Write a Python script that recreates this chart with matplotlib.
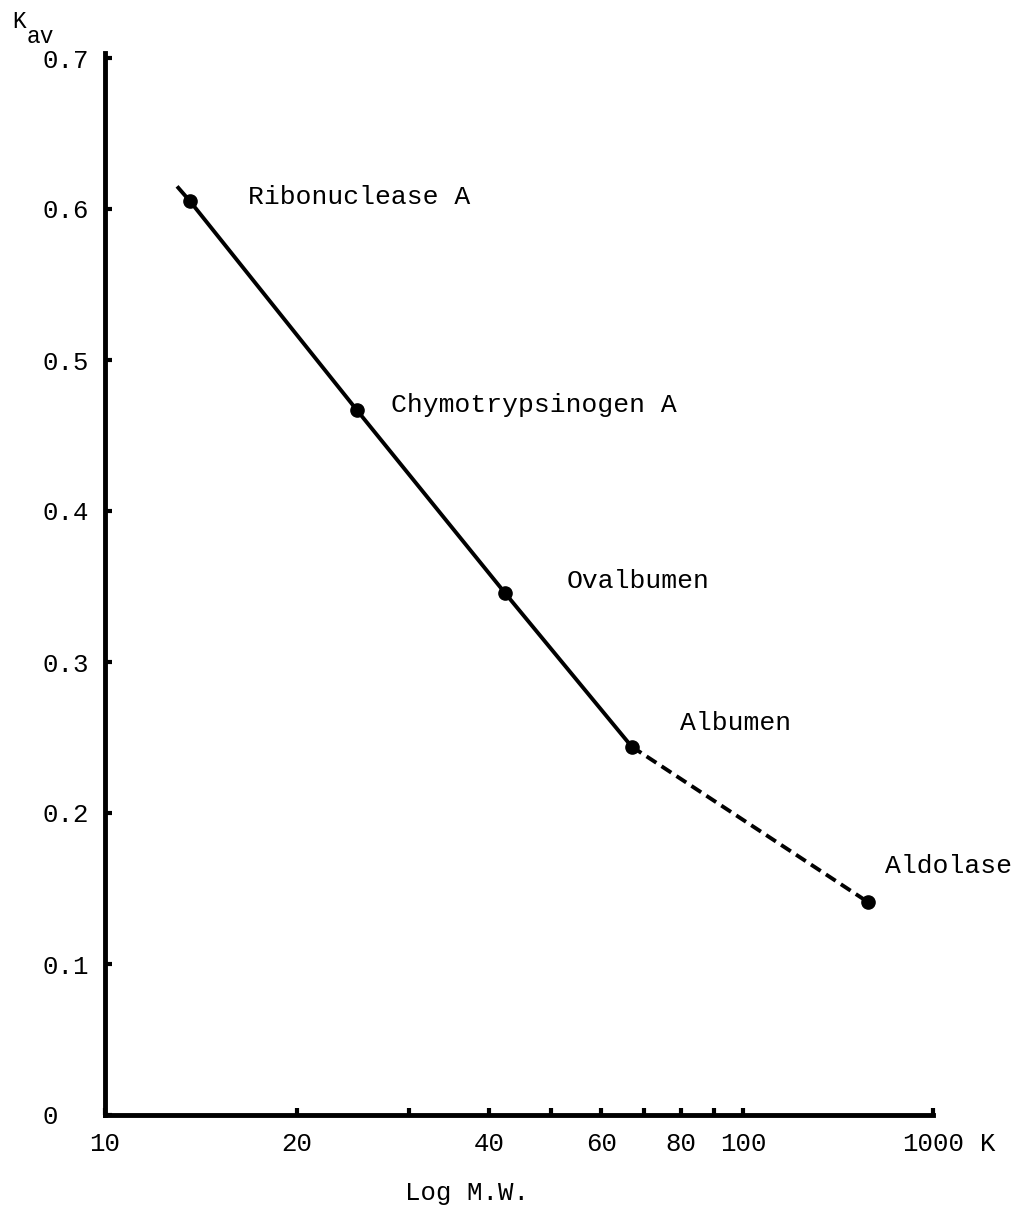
import numpy as np
import matplotlib.pyplot as plt
from matplotlib.ticker import NullFormatter

plt.rcParams['font.family'] = ['Liberation Mono', 'DejaVu Sans Mono']

# calibration standards
proteins = ['Ribonuclease A', 'Chymotrypsinogen A', 'Ovalbumen', 'Albumen', 'Aldolase']
mw_k = [13.6, 24.8, 42.3, 66.9, 157]
kav = [0.605, 0.467, 0.346, 0.244, 0.141]

# hand-drawn line starts a little above ribonuclease
line_start_mw = 12.97
line_start_kav = 0.615

x_major = [10, 20, 40, 60, 80, 100]
x_minor = [30, 50, 70, 90]
x_end = 198.5
x_end_label = '1000'
y_ticks = [0, 0.1, 0.2, 0.3, 0.4, 0.5, 0.6, 0.7]
y_labels = ['0', '0.1', '0.2', '0.3', '0.4', '0.5', '0.6', '0.7']

# label offsets (pixels) from each point
label_dx = [58, 34, 62, 48, 17]
label_dy = [-3, -2, 5, 17, 29]

fig = plt.figure(figsize=(10.17, 12.19), dpi=100)
ax = fig.add_axes([105 / 1017, 104 / 1219, 828 / 1017, 1062 / 1219])

# solid part through the first four standards, dashed on to aldolase
ax.plot([line_start_mw] + mw_k[:4], [line_start_kav] + kav[:4],
        color='black', linewidth=2.8, solid_capstyle='butt')
ax.plot(mw_k[3:], kav[3:], color='black', linewidth=2.8,
        linestyle=(0, (3, 1.6)))
ax.plot(mw_k, kav, 'o', color='black', markersize=9.5)

for name, x, y, dx, dy in zip(proteins, mw_k, kav, label_dx, label_dy):
    ax.annotate(name, xy=(x, y), xytext=(dx, dy), textcoords='offset pixels',
                ha='left', va='baseline', fontsize=19)

ax.set_xscale('log')
ax.set_xlim(10, x_end)
ax.set_ylim(0, 1062 / 1510)

ax.set_xticks(x_major + [x_end], [str(v) for v in x_major] + [x_end_label])
ax.set_xticks(x_minor, minor=True)
ax.xaxis.set_minor_formatter(NullFormatter())
ax.set_yticks(y_ticks, y_labels)

ax.tick_params(axis='both', which='both', direction='in', length=5, width=3)
ax.tick_params(axis='x', labelsize=18.5, pad=12)
ax.tick_params(axis='y', labelsize=18.5, pad=45)
for lab in ax.get_yticklabels():
    lab.set_horizontalalignment('left')

for side in ['top', 'right']:
    ax.spines[side].set_visible(False)
for side in ['left', 'bottom']:
    ax.spines[side].set_linewidth(3.5)

ax.annotate('K', xy=(x_end, 0), xytext=(47, -17), textcoords='offset pixels',
            ha='left', va='top', fontsize=18.5, annotation_clip=False)

fig.text(12 / 1017, 1 - 28 / 1219, 'K', fontsize=16.5, va='baseline')
fig.text(27 / 1017, 1 - 43 / 1219, 'av', fontsize=16.5, va='baseline')
fig.text(405 / 1017, 19 / 1219, 'Log M.W.', fontsize=18.5, va='baseline')

fig.savefig('out.png', dpi=100)
